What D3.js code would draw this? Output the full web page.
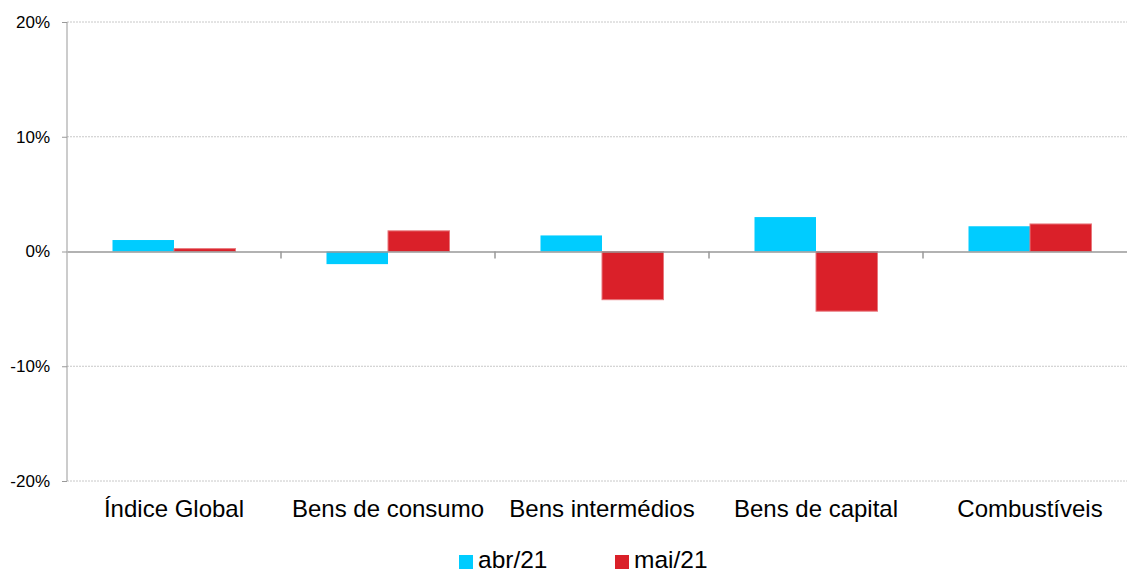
<!DOCTYPE html>
<html><head><meta charset="utf-8">
<script src="https://cdn.jsdelivr.net/npm/d3@7"></script>
<style>body{margin:0;background:#fff}svg{display:block;font-family:"Liberation Sans",Arial,sans-serif}</style>
</head><body><svg id="c" width="1127" height="574"></svg>
<script>
const categories = ["Índice Global","Bens de consumo","Bens intermédios","Bens de capital","Combustíveis"];
const seriesNames = ["abr/21","mai/21"];
const abr21 = [1.0, -1.1, 1.4, 3.0, 2.2];
const mai21 = [0.25, 1.8, -4.2, -5.2, 2.4];
const yTicks = [-20,-10,0,10,20];
const colors = ["#00CCFF","#DA2029"];

const svg = d3.select("#c");
const x0 = d3.scaleBand().domain(categories).range([67,1137]).paddingInner(0).paddingOuter(0);
const x1 = d3.scaleBand().domain(seriesNames).range([45.5, x0.bandwidth()-45.5]).padding(0);
const y = d3.scaleLinear().domain([-20,20]).range([481,22]);

// gridlines
svg.append("g").selectAll("line").data(yTicks.filter(d=>d!==0)).join("line")
  .attr("x1",67).attr("x2",1137).attr("y1",d=>y(d)).attr("y2",d=>y(d))
  .attr("stroke","#c8c8c8").attr("stroke-width",1).attr("stroke-dasharray","2,1");

// y axis
const ya = svg.append("g").attr("transform","translate(67,0)")
  .call(d3.axisLeft(y).tickValues(yTicks).tickSize(5).tickPadding(12).tickFormat(d=>d+"%"));
ya.select(".domain").attr("stroke","#999").attr("d","M0,22V481");
ya.selectAll(".tick line").attr("stroke","#999");
ya.selectAll("text").attr("font-size",17).attr("fill","#000").attr("font-family","Liberation Sans, Arial, sans-serif");

// bars
const data = categories.map((c,i)=>({c, vals:[abr21[i], mai21[i]]}));
const g = svg.append("g");
data.forEach(d=>{
  d.vals.forEach((v,j)=>{
    g.append("rect")
      .attr("x", x0(d.c)+x1(seriesNames[j]))
      .attr("width", x1.bandwidth())
      .attr("y", y(Math.max(0,v)))
      .attr("height", Math.abs(y(v)-y(0)))
      .attr("fill", colors[j])
      .attr("stroke", j===1 ? "#e8777c" : "none")
      .attr("stroke-width", j===1 ? 1 : 0);
  });
});

// x axis at zero
const xa = svg.append("g").attr("transform",`translate(0,${y(0)})`)
  .call(d3.axisBottom(x0).tickSize(0).tickFormat(""));
xa.select(".domain").attr("stroke","#999").attr("stroke-width",1.5);
xa.selectAll(".tick").remove();
svg.append("g").selectAll("line").data(categories.slice(1)).join("line")
  .attr("x1",d=>x0(d)).attr("x2",d=>x0(d)).attr("y1",y(0)).attr("y2",y(0)+7)
  .attr("stroke","#999").attr("stroke-width",1.5);

// category labels
svg.append("g").selectAll("text").data(categories).join("text")
  .attr("x",d=>x0(d)+x0.bandwidth()/2).attr("y",517)
  .attr("text-anchor","middle").attr("font-size",24).attr("fill","#000").text(d=>d);

// legend
const leg = [{x:459},{x:615}];
seriesNames.forEach((s,i)=>{
  svg.append("rect").attr("x",leg[i].x).attr("y",555).attr("width",14).attr("height",14).attr("fill",colors[i]);
  svg.append("text").attr("x",leg[i].x+19).attr("y",568).attr("font-size",24.5).attr("fill","#000").text(s);
});
</script></body></html>
